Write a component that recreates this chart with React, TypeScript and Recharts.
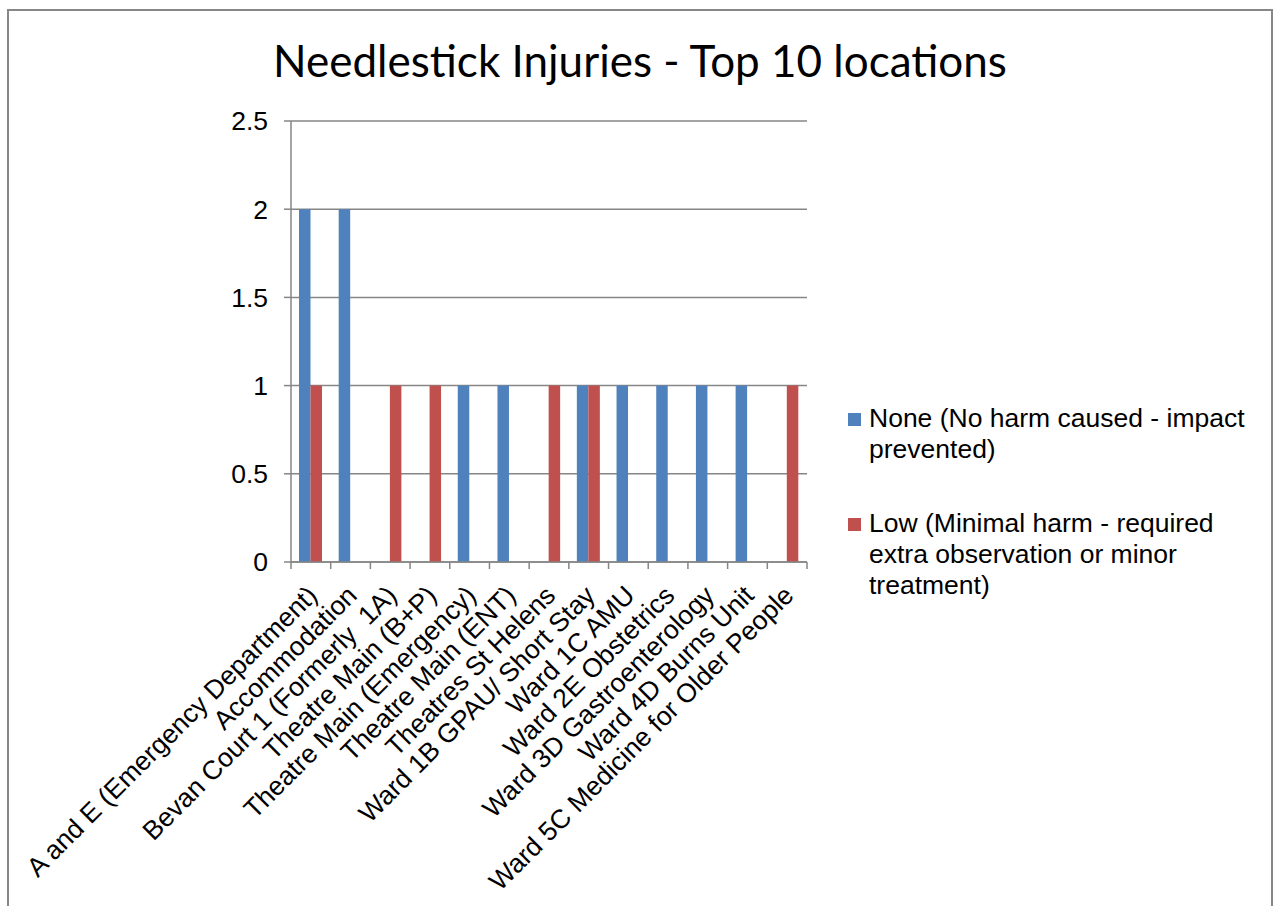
import { BarChart, Bar, XAxis, YAxis, CartesianGrid, Legend, Customized } from "recharts";

const locations = [
  "A and E (Emergency Department)",
  "Accommodation",
  "Bevan Court 1 (Formerly  1A)",
  "Theatre Main (B+P)",
  "Theatre Main (Emergency)",
  "Theatre Main (ENT)",
  "Theatres St Helens",
  "Ward 1B GPAU/ Short Stay",
  "Ward 1C AMU",
  "Ward 2E Obstetrics",
  "Ward 3D Gastroenterology",
  "Ward 4D Burns Unit",
  "Ward 5C Medicine for Older People",
];
const noneCounts = [2, 2, 0, 0, 1, 1, 0, 1, 1, 1, 1, 1, 0];
const lowCounts = [1, 0, 1, 1, 0, 0, 1, 1, 0, 0, 0, 0, 1];
const yTicks = [0, 0.5, 1, 1.5, 2, 2.5];
const seriesNames = [
  "None (No harm caused - impact prevented)",
  "Low (Minimal harm - required extra observation or minor treatment)",
];
const seriesColors = ["#4F81BD", "#C0504D"];
const title = "Needlestick Injuries - Top 10 locations";

const data = locations.map((loc, i) => ({ loc, none: noneCounts[i], low: lowCounts[i] }));

const W = 1274;
const H = 906;
const FONT = '"Liberation Sans", Arial, sans-serif';
const GRID = "#868686";
const PLOT_LEFT = 291;
const PLOT_RIGHT = 807;
const HALF_BAND = (PLOT_RIGHT - PLOT_LEFT) / locations.length / 2;

// category ticks sit on the band edges, labels run up at 45 degrees
function CategoryTick(props: any) {
  const { y, payload } = props;
  const cx = payload.coordinate;
  const half = payload.offset || HALF_BAND;
  const isLast = payload.value === locations[locations.length - 1];
  const tx = cx + 8;
  const ty = y + 35;
  return (
    <g>
      <line x1={cx - half} x2={cx - half} y1={y} y2={y + 7} stroke={GRID} strokeWidth={1.5} />
      {isLast && <line x1={cx + half} x2={cx + half} y1={y} y2={y + 7} stroke={GRID} strokeWidth={1.5} />}
      <text
        x={tx}
        y={ty}
        transform={`rotate(-45 ${tx} ${ty})`}
        textAnchor="end"
        fontSize={26.5}
        fontFamily={FONT}
        fill="#000"
        style={{ whiteSpace: "pre" }}
      >
        {payload.value}
      </text>
    </g>
  );
}

function LegendBox(props: any) {
  // keep series order rather than the legend's alphabetical sort
  const items = [...(props.payload || [])].sort(
    (a: any, b: any) => seriesNames.indexOf(a.value) - seriesNames.indexOf(b.value)
  );
  return (
    <div style={{ width: 400, fontFamily: FONT, fontSize: 26.5, lineHeight: "31px", color: "#000" }}>
      {items.map((it: any, i: number) => (
        <div key={i} style={{ display: "flex", alignItems: "flex-start", marginBottom: 43 }}>
          <div style={{ width: 13, height: 13, marginTop: 10, marginRight: 8, background: it.color, flex: "none" }} />
          <div style={{ width: 390 }}>{it.value}</div>
        </div>
      ))}
    </div>
  );
}

function Title() {
  return (
    <text x={640} y={77} textAnchor="middle" fontSize={44} fontFamily='Lato, "Liberation Sans", sans-serif' fill="#000">
      {title}
    </text>
  );
}

export default function App() {
  return (
    <div style={{ position: "absolute", left: 0, top: 0, width: W, height: H, overflow: "hidden", background: "#fff" }}>
      <BarChart
        width={W}
        height={H}
        data={data}
        barGap={0}
        margin={{ top: 121, right: W - PLOT_RIGHT, bottom: 0, left: 0 }}
      >
        <CartesianGrid vertical={false} stroke={GRID} strokeWidth={1.5} />
        <XAxis
          dataKey="loc"
          interval={0}
          height={H - 562}
          tickSize={0}
          tickMargin={0}
          tickLine={false}
          axisLine={{ stroke: GRID, strokeWidth: 1.5 }}
          tick={<CategoryTick />}
        />
        <YAxis
          width={PLOT_LEFT}
          domain={[0, 2.5]}
          ticks={yTicks}
          interval={0}
          tickSize={7}
          tickMargin={16}
          axisLine={{ stroke: GRID, strokeWidth: 1.5 }}
          tickLine={{ stroke: GRID, strokeWidth: 1.5 }}
          tick={{ fontSize: 26.5, fontFamily: FONT, fill: "#000" }}
        />
        <Bar dataKey="none" name={seriesNames[0]} fill={seriesColors[0]} barSize={11.5} isAnimationActive={false} />
        <Bar dataKey="low" name={seriesNames[1]} fill={seriesColors[1]} barSize={11.5} isAnimationActive={false} />
        <Legend
          content={<LegendBox />}
          wrapperStyle={{ position: "absolute", left: 848, top: 403, width: 0, height: 0 }}
        />
        <Customized component={<Title />} />
      </BarChart>
      <div
        style={{
          position: "absolute",
          left: 7,
          top: 9,
          width: 1262,
          height: H + 10,
          border: "2px solid #878787",
          pointerEvents: "none",
        }}
      />
    </div>
  );
}
